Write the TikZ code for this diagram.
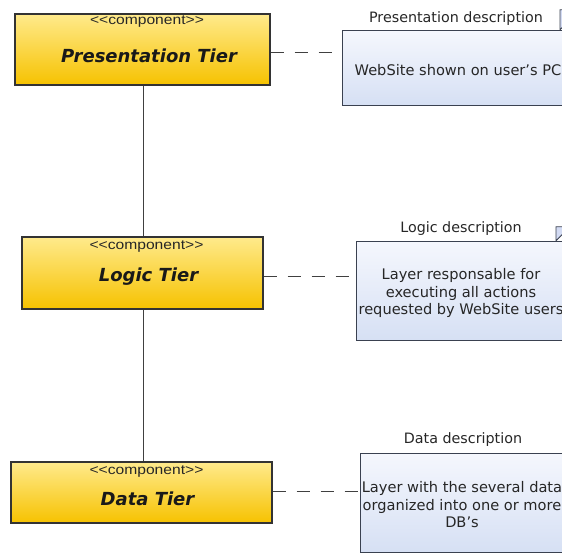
\documentclass[tikz,border=0pt]{standalone}
\usepackage{fontspec}
\setmainfont{DejaVu Sans}
\newfontfamily\stereofont[FakeStretch=1.15]{Liberation Sans}
\usetikzlibrary{shapes.misc}

\definecolor{tierTop}{HTML}{FFEA8C}
\definecolor{tierBot}{HTML}{F6C200}
\definecolor{tierLine}{HTML}{333333}
\definecolor{noteTop}{HTML}{F5F7FD}
\definecolor{noteBot}{HTML}{D6E0F4}
\definecolor{noteLine}{HTML}{3A4150}
\definecolor{foldFill}{HTML}{D3DBF3}

\tikzset{
  tier/.style={draw=tierLine, line width=1.1pt, rectangle,
    top color=tierTop, bottom color=tierBot, inner sep=0pt},
  stereo/.style={font=\stereofont\fontsize{13.6}{15}\selectfont, text=black!85, inner sep=0pt},
  tiername/.style={font=\fontsize{18}{20}\selectfont\bfseries\itshape, text=black!90, inner sep=0pt},
  note/.style={draw=noteLine, line width=0.8pt, chamfered rectangle,
    chamfered rectangle corners=north east, chamfered rectangle sep=#1,
    top color=noteTop, bottom color=noteBot, inner sep=0pt},
  notetext/.style={align=center, inner sep=0pt,
    font=\fontsize{14.6}{17.5}\selectfont, text=black!85},
  notetitle/.style={font=\fontsize{14.3}{16}\selectfont, text=black!85, inner sep=0pt},
  link/.style={draw=black!75, line width=0.8pt},
  notelink/.style={draw=black!75, line width=0.9pt, dash pattern=on 13pt off 11pt},
  fold/.style={draw=noteLine, line width=0.8pt, fill=foldFill}
}

\begin{document}
\begin{tikzpicture}[x=1pt,y=-1pt]
\useasboundingbox (0,0) rectangle (562,554);
\clip (0,0) rectangle (562,554);

% component boxes
\node[tier, minimum width=255pt, minimum height=71pt] (pres) at (142.5,49.5) {};
\node[tier, minimum width=241pt, minimum height=72pt] (logic) at (142.5,273) {};
\node[tier, minimum width=261pt, minimum height=61pt] (data) at (141.5,492.5) {};

\node[stereo] (presS) at (147,22) {<{}<component>{}>};
\node[tiername] (presN) at (149,55.5) {Presentation Tier};
\node[stereo] (logicS) at (146.5,246.5) {<{}<component>{}>};
\node[tiername] (logicN) at (148.5,277) {Logic Tier};
\node[stereo] (dataS) at (146.5,471.5) {<{}<component>{}>};
\node[tiername] (dataN) at (147.5,498.5) {Data Tier};

% tier links
\draw[link] (pres.south -| 143,0) -- (logic.north -| 143,0);
\draw[link] (logic.south -| 143,0) -- (data.north -| 143,0);

% notes
\node[note=20pt, minimum width=238pt, minimum height=75pt] (presNote) at (461,67.5) {};
\node[note=14pt, minimum width=214pt, minimum height=99pt] (logicNote) at (463,290.5) {};
\node[note=20pt, minimum width=224pt, minimum height=99pt] (dataNote) at (472,502.5) {};

\node[notetext] (presTxt) at (458,70) {WebSite shown on user's PC};
\node[notetext] (logicTxt) at (461,293) {Layer responsable for\\executing all actions\\requested by WebSite users};
\node[notetext] (dataTxt) at (462,505) {Layer with the several data\\organized into one or more\\DB's};

% folded corners
\draw[fold] ([xshift=-20pt]presNote.north east) -- ++(0,20pt) -- ++(20pt,0) -- cycle;
\draw[fold] ([xshift=-14pt]logicNote.north east) -- ++(0,14pt) -- ++(14pt,0) -- cycle;
\draw[fold] ([xshift=-20pt]dataNote.north east) -- ++(0,20pt) -- ++(20pt,0) -- cycle;

\node[notetitle] (presT) at (456,18.5) {Presentation description};
\node[notetitle] (logicT) at (461,229) {Logic description};
\node[notetitle] (dataT) at (463,440) {Data description};

% note links
\draw[notelink] (pres.east |- 0,52) -- (presNote.west |- 0,52);
\draw[notelink] (logic.east |- 0,276) -- (logicNote.west |- 0,276);
\draw[notelink] (data.east |- 0,491) -- (dataNote.west |- 0,491);
\end{tikzpicture}
\end{document}
